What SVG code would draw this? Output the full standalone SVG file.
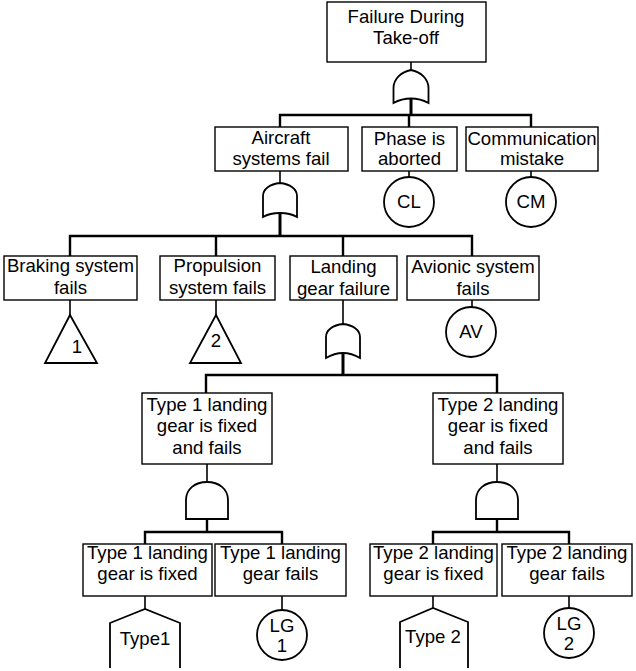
<svg xmlns="http://www.w3.org/2000/svg" width="636" height="671" viewBox="0 0 636 671">
<style>
.box{fill:#fff;stroke:#000;stroke-width:1.4}
.ev{fill:#fff;stroke:#000;stroke-width:1.8}
.gate{fill:#fff;stroke:#000;stroke-width:1.8}
.t{font-family:"Liberation Sans",Arial,sans-serif;font-size:18.6px;fill:#000;text-anchor:middle}
.c{fill:none;stroke:#000;stroke-width:2.4}
.thin{fill:none;stroke:#000;stroke-width:1.6}
.thick{fill:none;stroke:#000;stroke-width:3}
</style>
<rect width="636" height="671" fill="#fff"/>
<g id="connectors">
<path class="thin" d="M411,62V71"/>
<path class="thick" d="M411,99V115"/>
<path class="c" d="M280,127V115H531V127M409,115V127"/>
<path class="thin" d="M280,171V183"/>
<path class="thick" d="M280,213V236"/>
<path class="c" d="M70,256V236H472V256M216,236V256M343,236V256"/>
<path class="thin" d="M343,300V324"/>
<path class="thick" d="M343,353V375"/>
<path class="c" d="M206,393V375H497V393"/>
<path class="thin" d="M207,464V482"/>
<path class="thin" d="M497,464V482"/>
<path class="c" d="M207,519V532M145,544V532H282V544"/>
<path class="c" d="M497,519V532M433,544V532H569V544"/>
<path class="thin" d="M409,171V177M531,171V177M472,300V307M70,300V315M216,300V315M145,596V609M282,596V610M433,596V608M569,596V608"/>
</g>
<g id="top">
<rect class="box" x="327" y="2" width="159" height="60"/>
<text class="t" x="406" y="23">Failure During</text>
<text class="t" x="406" y="44">Take-off</text>
</g>
<g id="or-top">
<path class="gate" d="M393.5,103V88C393.5,79 401,72 411,70C421,72 428.5,79 428.5,88V103C423,100 417,98.5 411,98.5C405,98.5 399,100 393.5,103Z"/>
</g>
<g id="aircraft">
<rect class="box" x="215" y="127" width="133" height="44"/>
<text class="t" x="281" y="144">Aircraft</text>
<text class="t" x="281" y="165">systems fail</text>
</g>
<g id="or-aircraft">
<path class="gate" d="M263,217V196C263,189 270,184 280,183C290,184 297,189 297,196V217C292,214 286,213 280,213C274,213 268,214 263,217Z"/>
</g>
<g id="phase">
<rect class="box" x="362" y="127" width="95" height="44"/>
<text class="t" x="409.5" y="145">Phase is</text>
<text class="t" x="409.5" y="165">aborted</text>
</g>
<g id="cl">
<circle class="ev" cx="409" cy="202" r="25"/>
<text class="t" x="409" y="208">CL</text>
</g>
<g id="comm">
<rect class="box" x="466" y="127" width="132" height="44"/>
<text class="t" x="532" y="145">Communication</text>
<text class="t" x="532" y="165">mistake</text>
</g>
<g id="cm">
<circle class="ev" cx="531" cy="202" r="25"/>
<text class="t" x="531" y="208">CM</text>
</g>
<g id="braking">
<rect class="box" x="4" y="256" width="133" height="44"/>
<text class="t" x="70.5" y="272">Braking system</text>
<text class="t" x="70.5" y="294">fails</text>
</g>
<g id="tri1">
<path class="ev" d="M70,315L97,363H45Z"/>
<text class="t" x="77" y="353">1</text>
</g>
<g id="propulsion">
<rect class="box" x="160" y="256" width="115" height="44"/>
<text class="t" x="217.5" y="272">Propulsion</text>
<text class="t" x="217.5" y="294">system fails</text>
</g>
<g id="tri2">
<path class="ev" d="M216,315L241,363H190Z"/>
<text class="t" x="216" y="347">2</text>
</g>
<g id="landing">
<rect class="box" x="290" y="256" width="107" height="44"/>
<text class="t" x="343.5" y="273">Landing</text>
<text class="t" x="343.5" y="295">gear failure</text>
</g>
<g id="or-landing">
<path class="gate" d="M326,358V337C326,330 333,325 343,324C353,325 360,330 360,337V358C355,355 349,353 343,353C337,353 331,355 326,358Z"/>
</g>
<g id="avionic">
<rect class="box" x="407" y="256" width="132" height="44"/>
<text class="t" x="473" y="273">Avionic system</text>
<text class="t" x="473" y="295">fails</text>
</g>
<g id="av">
<circle class="ev" cx="471" cy="332" r="25"/>
<text class="t" x="471" y="338">AV</text>
</g>
<g id="type1ff">
<rect class="box" x="142" y="393" width="130" height="71"/>
<text class="t" x="207" y="411">Type 1 landing</text>
<text class="t" x="207" y="432">gear is fixed</text>
<text class="t" x="207" y="454">and fails</text>
</g>
<g id="and1">
<path class="gate" d="M186,519V500C186,489 195,482 207,482C219,482 228,489 228,500V519Z"/>
</g>
<g id="type2ff">
<rect class="box" x="433" y="393" width="130" height="71"/>
<text class="t" x="498" y="411">Type 2 landing</text>
<text class="t" x="498" y="432">gear is fixed</text>
<text class="t" x="498" y="454">and fails</text>
</g>
<g id="and2">
<path class="gate" d="M476,519V500C476,489 485,482 497,482C509,482 518,489 518,500V519Z"/>
</g>
<g id="type1fixed">
<rect class="box" x="83" y="544" width="129" height="52"/>
<text class="t" x="147.5" y="559">Type 1 landing</text>
<text class="t" x="147.5" y="580">gear is fixed</text>
</g>
<g id="house1">
<path class="ev" d="M110,668V623L145,609L180,623V668"/>
<text class="t" x="145" y="645">Type1</text>
</g>
<g id="type1fails">
<rect class="box" x="215" y="544" width="131" height="52"/>
<text class="t" x="280.5" y="559">Type 1 landing</text>
<text class="t" x="280.5" y="580">gear fails</text>
</g>
<g id="lg1">
<circle class="ev" cx="282" cy="635" r="25"/>
<text class="t" x="282" y="632">LG</text>
<text class="t" x="282" y="652">1</text>
</g>
<g id="type2fixed">
<rect class="box" x="370" y="544" width="127" height="52"/>
<text class="t" x="433.5" y="559">Type 2 landing</text>
<text class="t" x="433.5" y="580">gear is fixed</text>
</g>
<g id="house2">
<path class="ev" d="M400,668V622L433,608L468,622V668"/>
<text class="t" x="433" y="643">Type 2</text>
</g>
<g id="type2fails">
<rect class="box" x="502" y="544" width="130" height="52"/>
<text class="t" x="567" y="559">Type 2 landing</text>
<text class="t" x="567" y="580">gear fails</text>
</g>
<g id="lg2">
<circle class="ev" cx="569" cy="633" r="25"/>
<text class="t" x="569" y="630">LG</text>
<text class="t" x="569" y="650">2</text>
</g>
</svg>
